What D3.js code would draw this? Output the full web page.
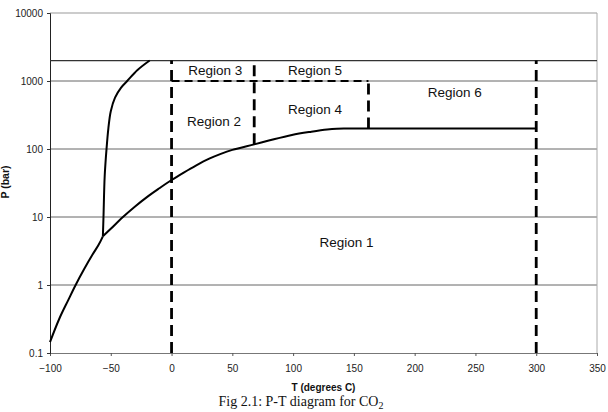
<!DOCTYPE html>
<html>
<head>
<meta charset="utf-8">
<script src="https://cdn.jsdelivr.net/npm/d3@7"></script>
<style>
  body { margin: 0; background: #fff; }
  svg { display: block; }
  text { font-family: Arial, "Liberation Sans", sans-serif; fill: #111; }
</style>
</head>
<body>
<div id="chart"></div>
<script>
// phase boundaries of CO2, [T (deg C), P (bar)]
var sublimation = [[-100,0.145],[-92,0.33],[-85,0.6],[-78.9,1],[-72,1.7],[-65,2.8],[-60,3.9],[-56.5,5.2]];
var vaporization = [[-56.5,5.2],[-50,6.7],[-40,10],[-30,14.3],[-20,19.8],[-10,26.5],[0,35],[10,45],[20,57],[31,72],
                    [40,84],[50,97],[68,117],[80,133],[99,161],[115,180],[128,194],[136,199],[145,200],[300,200]];
var melting = [[-56.5,5.2],[-56,10],[-55,40],[-53.5,100],[-52,200],[-50,360],[-46.5,570],[-41.5,800],[-36.5,1000],[-28,1450],[-18,2000]];
// region borders (dashed): [T1, P1, T2, P2]
var borders = [[0,0.1,0,2000],[300,0.1,300,2000],[68,117,68,2000],[162,200,162,1000],[0,1000,162,1000]];
var upperLimit = 2000;
var regions = [["Region 3",36,1450],["Region 5",118,1450],["Region 2",35,260],["Region 4",118,390],["Region 6",233,690],["Region 1",144,4.2]];
var xTicks = [-100,-50,0,50,100,150,200,250,300,350];
var yTicks = [0.1,1,10,100,1000,10000];

var w = 608, h = 412;
var svg = d3.select("#chart").append("svg").attr("width", w).attr("height", h);

var x = d3.scaleLinear().domain([-100,350]).range([50,597]);
var y = d3.scaleLog().domain([0.1,10000]).range([353,13]);

// horizontal grid at each decade
svg.selectAll("line.grid")
	.data(yTicks.slice(1)).enter().append("line")
	.attr("class","grid")
	.attr("x1", x(-100)).attr("x2", x(350))
	.attr("y1", function(d) { return y(d); }).attr("y2", function(d) { return y(d); })
	.style("stroke", function(d) { return d == 10000 ? "#999" : "#666"; })
	.style("stroke-width", 1);
// right border
svg.append("line")
	.attr("x1", x(350)).attr("x2", x(350)).attr("y1", y(10000)).attr("y2", y(0.1))
	.style("stroke", "#aaa").style("stroke-width", 1);

// axes
var gx = svg.append("g")
	.attr("transform", "translate(0," + y(0.1) + ")")
	.call(d3.axisBottom(x).tickValues(xTicks).tickSize(3).tickPadding(9));
gx.select(".domain").style("stroke", "#777");
gx.selectAll(".tick line").style("stroke", "#555");
gx.selectAll("text").style("font-size", "10px").style("fill", "#222").attr("font-family", "Arial, Liberation Sans");

var gy = svg.append("g")
	.attr("transform", "translate(" + x(-100) + ",0)")
	.call(d3.axisLeft(y).tickValues(yTicks).tickFormat(function(d) { return d < 1 ? "0.1" : d3.format("d")(d); }).tickSize(3).tickPadding(4));
gy.select(".domain").style("stroke", "#222");
gy.selectAll(".tick line").style("stroke", "#333");
gy.selectAll("text").style("font-size", "10px").style("fill", "#222").attr("font-family", "Arial, Liberation Sans");

// upper limit line at 2000 bar
svg.append("line")
	.attr("x1", x(-100)).attr("x2", x(350))
	.attr("y1", y(upperLimit)).attr("y2", y(upperLimit))
	.style("stroke", "#333").style("stroke-width", 1.2);

// phase curves (smooth through the read points)
var line = d3.line()
	.x(function(d) { return x(d[0]); })
	.y(function(d) { return y(d[1]); })
	.curve(d3.curveCatmullRom.alpha(0.5));
[sublimation, vaporization, melting].forEach(function(c) {
	svg.append("path")
		.datum(c)
		.attr("fill", "none")
		.style("stroke", "#000")
		.style("stroke-width", 2)
		.attr("d", line);
});

// dashed region borders
svg.selectAll("line.border")
	.data(borders).enter().append("line")
	.attr("class","border")
	.attr("x1", function(d) { return x(d[0]); })
	.attr("y1", function(d) { return y(d[1]); })
	.attr("x2", function(d) { return x(d[2]); })
	.attr("y2", function(d) { return y(d[3]); })
	.style("stroke", "#000")
	.style("stroke-width", function(d) { return d[1] == d[3] ? 2.2 : 2.8; })
	.style("stroke-dasharray", function(d) { return d[1] == d[3] ? "8,5" : "11,6"; });

// region labels
svg.selectAll("text.region")
	.data(regions).enter().append("text")
	.attr("class","region")
	.attr("x", function(d) { return x(d[1]); })
	.attr("y", function(d) { return y(d[2]); })
	.attr("dy", "0.36em")
	.attr("text-anchor", "middle")
	.style("font-size", "13.5px")
	.text(function(d) { return d[0]; });

// axis titles
svg.append("text")
	.attr("x", (x(-100) + x(350)) / 2).attr("y", 391)
	.attr("text-anchor", "middle")
	.style("font-size", "10px").style("font-weight", "bold")
	.text("T (degrees C)");
svg.append("text")
	.attr("transform", "translate(9,182) rotate(-90)")
	.attr("text-anchor", "middle")
	.style("font-size", "10.5px").style("font-weight", "bold")
	.text("P (bar)");

// caption
var cap = svg.append("text")
	.attr("x", 301).attr("y", 406)
	.attr("text-anchor", "middle")
	.style("font-family", "'Liberation Serif', 'Times New Roman', serif")
	.style("font-size", "14px");
cap.append("tspan").text("Fig 2.1: P-T diagram for CO");
cap.append("tspan").attr("dy", 3).style("font-size", "10px").text("2");
</script>
</body>
</html>
